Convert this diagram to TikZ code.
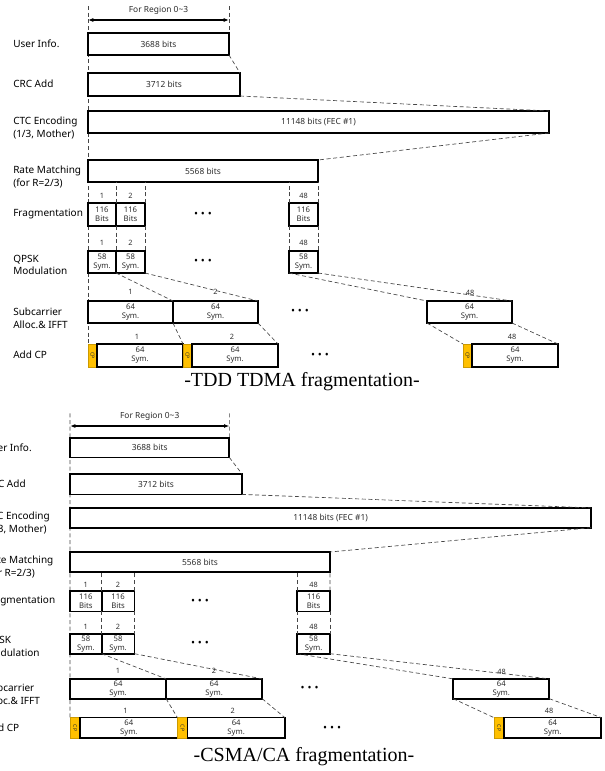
\documentclass[tikz,border=0pt]{standalone}
\usepackage{fontspec}
\setmainfont{Noto Sans}
\newfontfamily\captionserif{Liberation Serif}
\usetikzlibrary{positioning,arrows.meta,fit,backgrounds}
\definecolor{cpgold}{RGB}{255,192,0}
\definecolor{linkgray}{RGB}{70,70,70}
\definecolor{boxtext}{RGB}{45,45,45}
\tikzset{
  rowlbl/.style ={anchor=west, align=left, font=\fontsize{7.5}{9.5}\selectfont, inner sep=0pt},
  blk/.style    ={draw=black, line width=1.3pt, fill=white, inner sep=0pt, outer sep=0pt},
  bigtxt/.style ={font=\fontsize{6.3}{7}\selectfont, text=boxtext, inner sep=0pt},
  blktxt/.style ={align=center, font=\fontsize{5.8}{6.8}\selectfont, text=boxtext, inner sep=0pt},
  cpblk/.style  ={draw=cpgold!80!black, line width=0.4pt, fill=cpgold, inner sep=0pt, outer sep=0pt},
  cptxt/.style  ={rotate=-90, font=\fontsize{4}{4}\selectfont, text=boxtext, inner sep=0pt},
  idx/.style    ={font=\fontsize{5.5}{6}\selectfont, text=boxtext, inner sep=0pt},
  more/.style   ={font=\fontsize{8}{8}\selectfont, inner sep=0pt},
  link/.style   ={densely dashed, line width=0.5pt, draw=linkgray},
  guide/.style  ={densely dashed, line width=0.5pt, draw=linkgray},
  span/.style   ={{Latex[length=4pt,width=3pt]}-{Latex[length=4pt,width=3pt]}, line width=0.8pt},
  figcap/.style ={font=\captionserif\fontsize{15}{15}\selectfont, inner sep=0pt},
}
\newcommand{\dotrow}{•\hspace{2.2pt}•\hspace{2.2pt}•}
% a framed block from corner to corner, its text set at the centre
\newcommand{\blkat}[7][blktxt]{%
  \node[blk, fit={(#3,#4)(#5,#6)}] (#2) {};
  \node[#1] (#2t) at (#2.center) {#7};}

% one fragmentation chart, pixel units, y downwards
\newcommand{\fragdiagram}{%
  % row names
  \node[rowlbl] (nUser) at (13,44)  {User Info.};
  \node[rowlbl] (nCrc)  at (13,84)  {CRC Add};
  \node[rowlbl] (nCtc)  at (13,128) {CTC Encoding\\(1/3, Mother)};
  \node[rowlbl] (nRate) at (13,177) {Rate Matching\\(for R=2/3)};
  \node[rowlbl] (nFrag) at (13,214) {Fragmentation};
  \node[rowlbl] (nQpsk) at (13,265) {QPSK\\Modulation};
  \node[rowlbl] (nSub)  at (13,318) {Subcarrier\\Alloc.\& IFFT};
  \node[rowlbl] (nCp)   at (13,355) {Add CP};
  % region span
  \coordinate (topL) at (88,6);
  \coordinate (topR) at (229,6);
  \coordinate (spanL) at (88,20);
  \coordinate (spanR) at (229,20);
  \draw[span] (spanL) -- node[bigtxt, above=4pt] (spanlbl) {For Region 0\textasciitilde3} (spanR);
  % coded blocks
  \blkat[bigtxt]{ui}{88}{33}{229}{55}{3688 bits}
  \blkat[bigtxt]{crc}{88}{73}{240}{96}{3712 bits}
  \blkat[bigtxt]{ctc}{88}{111}{549}{133}{11148 bits (FEC \#1)}
  \blkat[bigtxt]{rm}{88}{160}{318}{182}{5568 bits}
  % fragments
  \blkat{f1}{88}{203}{116}{226}{116\\Bits}
  \blkat{f2}{116}{203}{145}{226}{116\\Bits}
  \blkat{f48}{289}{203}{318}{226}{116\\Bits}
  \node[more] (fdots) at (203,215) {\dotrow};
  \node[idx] (fn1)  at (102,196) {1};
  \node[idx] (fn2)  at (130.5,196) {2};
  \node[idx] (fn48) at (303.5,196) {48};
  % qpsk
  \blkat{q1}{88}{251}{116}{273}{58\\Sym.}
  \blkat{q2}{116}{251}{145}{273}{58\\Sym.}
  \blkat{q48}{289}{251}{318}{273}{58\\Sym.}
  \node[more] (qdots) at (203,262) {\dotrow};
  \node[idx] (qn1)  at (102,243) {1};
  \node[idx] (qn2)  at (130.5,243) {2};
  \node[idx] (qn48) at (303.5,243) {48};
  % subcarrier alloc
  \blkat{s1}{88}{301}{173}{323}{64\\Sym.}
  \blkat{s2}{173}{301}{258}{323}{64\\Sym.}
  \blkat{s48}{427}{301}{512}{323}{64\\Sym.}
  \node[more] (sdots) at (300,312) {\dotrow};
  \node[idx] (sn1)  at (130.5,292) {1};
  \node[idx] (sn2)  at (215.5,292) {2};
  \node[idx] (sn48) at (470,293) {48};
  % cyclic prefix
  \node[cpblk, fit={(88,344)(97,367)}]   (c1cp)  {};
  \blkat{c1}{97}{344}{183}{367}{64\\Sym.}
  \node[cpblk, fit={(183,344)(192,367)}] (c2cp)  {};
  \blkat{c2}{192}{344}{278}{367}{64\\Sym.}
  \node[cpblk, fit={(463,344)(472,367)}] (c48cp) {};
  \blkat{c48}{472}{344}{558}{367}{64\\Sym.}
  \foreach \c in {c1cp,c2cp,c48cp} \node[cptxt] (\c t) at (\c) {CP};
  \node[more] (cdots) at (320,356) {\dotrow};
  \node[idx] (cn1)  at (137,337) {1};
  \node[idx] (cn2)  at (232,337) {2};
  \node[idx] (cn48) at (512,337) {48};
  % dashed mapping lines
  \draw[link] (ui.south east) -- (crc.north east);
  \draw[link] (crc.south east) -- (ctc.north east);
  \draw[link] (ctc.south east) -- (rm.north east);
  \foreach \a in {f1,f2} \draw[link] (\a.north east) -- (\a.north east |- rm.south);
  \draw[link] (f48.north west) -- (f48.north west |- rm.south);
  \draw[link] (f48.north east) -- (rm.south east);
  \foreach \a/\b in {f1/q1,f2/q2,f48/q48} \draw[link] (\a.south east) -- (\b.north east);
  \draw[link] (f48.south west) -- (q48.north west);
  \foreach \a/\b in {q1/s1,q2/s2,q48/s48} \draw[link] (\a.south east) -- (\b.north east);
  \draw[link] (q48.south west) -- (s48.north west);
  \foreach \a/\b in {s1/c1,s2/c2,s48/c48} \draw[link] (\a.south east) -- (\b.north east);
  \draw[link] (s48.south west) -- (c48cp.north west);
  \begin{scope}[on background layer]
    \draw[guide] (topL) -- (c1cp.north west);
    \draw[guide] (topR) -- (ui.north east);
  \end{scope}
}

\begin{document}
\begin{tikzpicture}[x=0.75pt, y=-0.75pt]
\begin{scope}[on background layer]
  \fill[white] (0,0) rectangle (605,771);
\end{scope}
\useasboundingbox (0,0) rectangle (605,771);
\clip (0,0) rectangle (605,771);

\begin{scope}[name prefix=t-]
  \fragdiagram
\end{scope}
\node[figcap] (capTop) at (302,382) {-TDD TDMA fragmentation-};

% second copy, stretched and cut at the left edge
\begin{scope}[name prefix=b-, shift={(-29.44,408)}, xscale=1.13, yscale=0.9]
  \fragdiagram
\end{scope}
\node[figcap] (capBot) at (304,757) {-CSMA/CA fragmentation-};
\end{tikzpicture}
\end{document}
